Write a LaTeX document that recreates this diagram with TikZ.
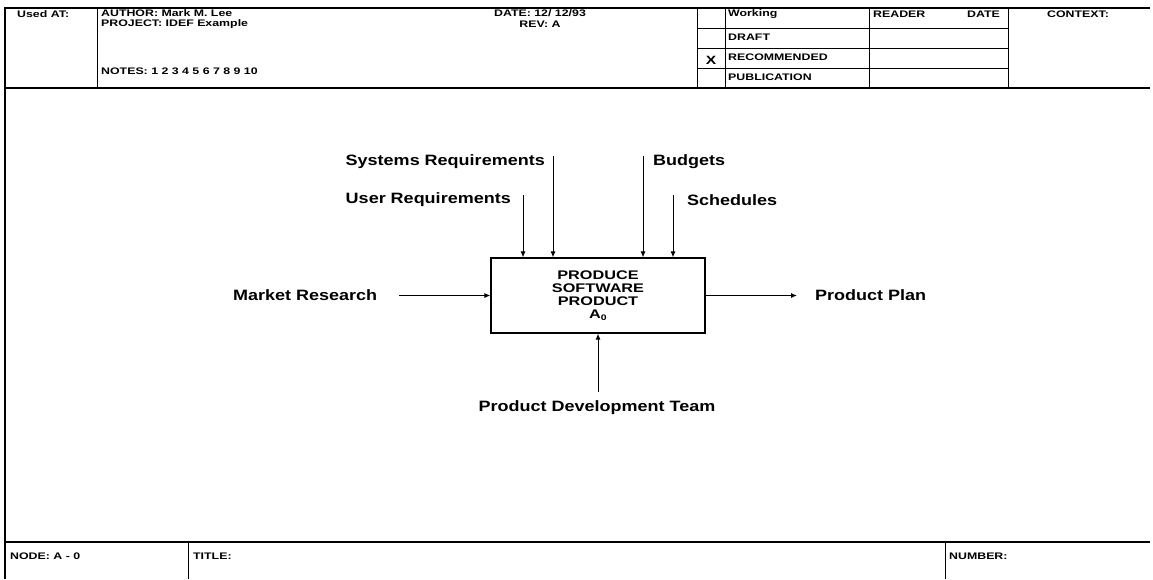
\documentclass[tikz,border=0pt]{standalone}
\usepackage{fontspec}
\newfontfamily\hv[FakeStretch=1.2]{Liberation Sans}
\newfontfamily\hvw[FakeStretch=1.3]{Liberation Sans}
\usetikzlibrary{arrows.meta}
\begin{document}
\begin{tikzpicture}[x=1pt,y=-1pt,
  frame/.style={line width=1.4pt},
  rule/.style={line width=0.9pt},
  arr/.style={line width=1pt,-{Latex[length=6pt,width=5pt]}},
  hdr/.style={font=\hvw\bfseries\fontsize{9.5}{10}\selectfont, inner sep=0pt},
  lbl/.style={font=\hv\bfseries\fontsize{15}{16}\selectfont, inner sep=0pt},
  activity/.style={draw, line width=1.1pt, minimum width=214pt, minimum height=75pt,
    align=center, font=\hvw\bfseries\fontsize{12.5}{13}\selectfont}
]
\useasboundingbox (0,0) rectangle (1153,579);

% ---- form frame ----
\draw[frame] (5,579) -- (5,8) -- (1150,8);
\draw[frame] (5,88) -- (1150,88);
\draw[frame] (5,542) -- (1150,542);
\draw[rule] (97,8) -- (97,88);
\foreach \x in {697,725,869,1008} \draw[rule] (\x,8) -- (\x,88);
\foreach \y in {28,48,68} \draw[rule] (697,\y) -- (1008,\y);
\draw[rule] (188,542) -- (188,579);
\draw[rule] (945,542) -- (945,579);

% ---- header texts ----
\node[hdr, anchor=west] (usedat) at (17,14) {Used AT:};
\node[hdr, anchor=west] (author) at (101,13.5) {AUTHOR: Mark M. Lee};
\node[hdr, anchor=west] (project) at (101,24.5) {PROJECT: IDEF Example};
\node[hdr, anchor=west] (notes) at (101,71) {NOTES: 1 2 3 4 5 6 7 8 9 10};
\node[hdr] (date) at (540,13.5) {DATE: 12/ 12/93};
\node[hdr] (rev) at (540,24.5) {REV: A};
\node[hdr, anchor=west] (working) at (728,14) {Working};
\node[hdr, anchor=west] (draft) at (728,37) {DRAFT};
\node[hdr, anchor=west] (recommended) at (728,57) {RECOMMENDED};
\node[hdr, anchor=west] (publication) at (728,77) {PUBLICATION};
\node[hdr, font=\hvw\bfseries\fontsize{12}{12}\selectfont] (mark) at (711,60) {X};
\node[hdr, anchor=west] (reader) at (873,14) {READER};
\node[hdr, anchor=east] (rdate) at (1000,14) {DATE};
\node[hdr, anchor=west] (context) at (1047,14) {CONTEXT:};

% ---- footer texts ----
\node[hdr, anchor=west] (nodeno) at (10,556) {NODE: A - 0};
\node[hdr, anchor=west] (title) at (193,556) {TITLE:};
\node[hdr, anchor=west] (number) at (949,556) {NUMBER:};

% ---- activity box ----
\node[activity] (box) at (598,295.5)
  {PRODUCE\\SOFTWARE\\PRODUCT\\A\raisebox{-2.5pt}{\fontsize{8}{9}\selectfont 0}};

% ---- labels ----
\node[lbl, anchor=east] (sysreq) at (545,162) {Systems Requirements};
\node[lbl, anchor=east] (userreq) at (511,200) {User Requirements};
\node[lbl, anchor=west] (budgets) at (653,162) {Budgets};
\node[lbl, anchor=west] (schedules) at (687,200) {Schedules};
\node[lbl, anchor=west] (market) at (233,295.5) {Market Research};
\node[lbl, anchor=west] (plan) at (815,295.5) {Product Plan};
\node[lbl] (team) at (597,408) {Product Development Team};

% ---- arrow tails ----
\coordinate (csys) at (553,156);
\coordinate (cuser) at (523,195);
\coordinate (cbud) at (643,156);
\coordinate (csch) at (673,195);
\coordinate (cmkt) at (399,295.5);
\coordinate (cplan) at (797,295.5);
\coordinate (cteam) at (598,392);

% ---- connectors ----
\draw[arr] (csys) -- (csys |- box.north);
\draw[arr] (cuser) -- (cuser |- box.north);
\draw[arr] (cbud) -- (cbud |- box.north);
\draw[arr] (csch) -- (csch |- box.north);
\draw[arr] (cmkt) -- (box.west);
\draw[arr] (box.east) -- (cplan);
\draw[arr] (cteam) -- (cteam |- box.south);
\end{tikzpicture}
\end{document}
